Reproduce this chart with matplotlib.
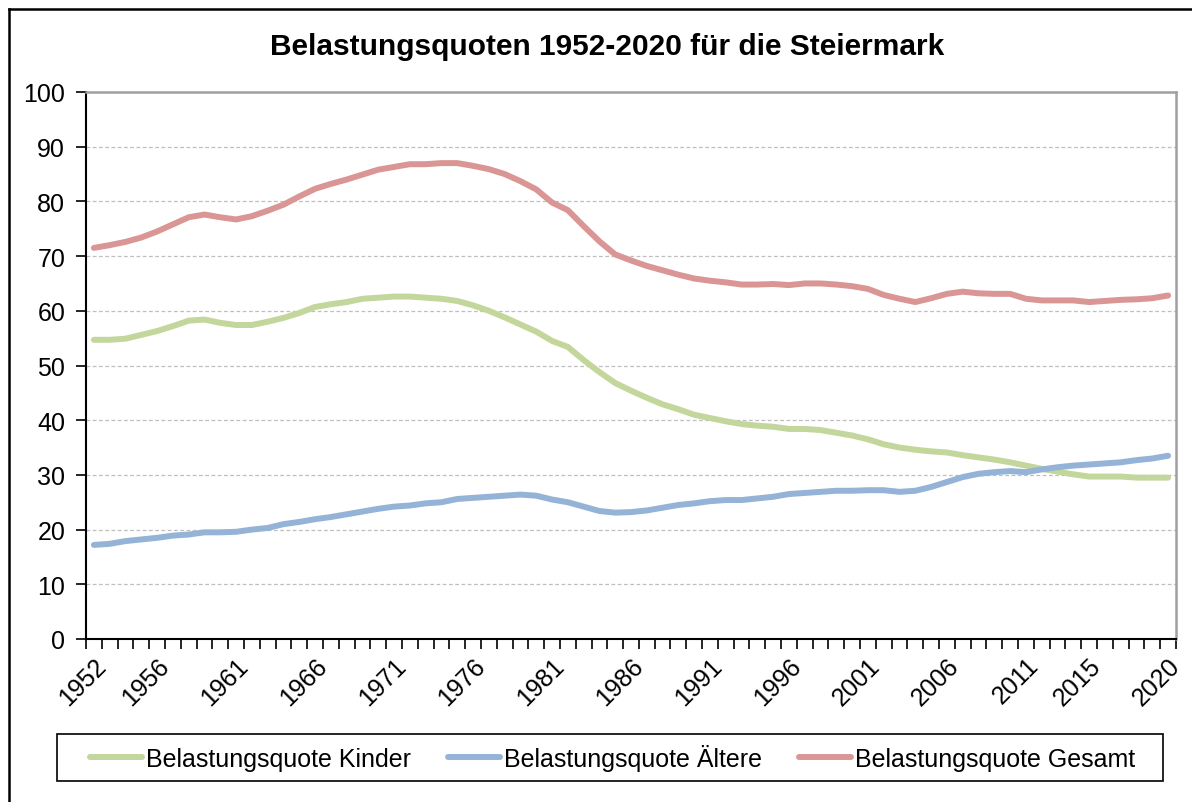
import numpy as np
import matplotlib.pyplot as plt
from matplotlib.lines import Line2D
from matplotlib.patches import Rectangle

# =====================================================================
# DATEN
# =====================================================================
jahre = list(range(1952, 2021))

kinder = [
    54.7, 54.7, 54.9, 55.6, 56.3, 57.2, 58.2, 58.4, 57.8, 57.4,   # 1952-1961
    57.4, 58.0, 58.7, 59.6, 60.7, 61.2, 61.6, 62.2, 62.4, 62.6,   # 1962-1971
    62.6, 62.4, 62.2, 61.8, 61.0, 60.0, 58.8, 57.5, 56.2, 54.5,   # 1972-1981
    53.4, 51.0, 48.8, 46.8, 45.4, 44.1, 42.9, 42.0, 41.0, 40.4,   # 1982-1991
    39.8, 39.3, 39.0, 38.8, 38.4, 38.4, 38.2, 37.7, 37.2, 36.5,   # 1992-2001
    35.6, 35.0, 34.6, 34.3, 34.1, 33.6, 33.2, 32.8, 32.3, 31.7,   # 2002-2011
    31.1, 30.6, 30.1, 29.7, 29.7, 29.7, 29.5, 29.5, 29.5,         # 2012-2020
]

aeltere = [
    17.2, 17.4, 17.9, 18.2, 18.5, 18.9, 19.1, 19.5, 19.5, 19.6,
    20.0, 20.3, 21.0, 21.4, 21.9, 22.3, 22.8, 23.3, 23.8, 24.2,
    24.4, 24.8, 25.0, 25.6, 25.8, 26.0, 26.2, 26.4, 26.2, 25.5,
    25.0, 24.2, 23.4, 23.1, 23.2, 23.5, 24.0, 24.5, 24.8, 25.2,
    25.4, 25.4, 25.7, 26.0, 26.5, 26.7, 26.9, 27.1, 27.1, 27.2,
    27.2, 26.9, 27.1, 27.8, 28.7, 29.6, 30.2, 30.5, 30.7, 30.5,
    31.0, 31.4, 31.7, 31.9, 32.1, 32.3, 32.7, 33.0, 33.5,
]

gesamt = [
    71.5, 72.0, 72.6, 73.4, 74.5, 75.8, 77.1, 77.6, 77.1, 76.7,
    77.3, 78.3, 79.4, 80.9, 82.3, 83.2, 84.0, 84.9, 85.8, 86.3,
    86.8, 86.8, 87.0, 87.0, 86.5, 85.9, 85.0, 83.7, 82.2, 79.8,
    78.4, 75.5, 72.7, 70.3, 69.2, 68.2, 67.4, 66.6, 65.9, 65.5,
    65.2, 64.8, 64.8, 64.9, 64.7, 65.0, 65.0, 64.8, 64.5, 64.0,
    62.9, 62.2, 61.6, 62.3, 63.1, 63.5, 63.2, 63.1, 63.1, 62.2,
    61.9, 61.9, 61.9, 61.6, 61.8, 62.0, 62.1, 62.3, 62.8,
]

beschriftete_jahre = [1952, 1956, 1961, 1966, 1971, 1976, 1981, 1986,
                      1991, 1996, 2001, 2006, 2011, 2015, 2020]

namen = ["Belastungsquote Kinder", "Belastungsquote Ältere", "Belastungsquote Gesamt"]
farben = ["#C3D69B", "#95B3D7", "#D99694"]

# =====================================================================
# GRAFIK
# =====================================================================
plt.rcParams["font.family"] = ["Liberation Sans", "DejaVu Sans"]

W, H = 1192, 803
fig = plt.figure(figsize=(W / 100, H / 100), dpi=100)
ax = fig.add_axes([86 / W, 1 - 640 / H, (1176 - 86) / W, (640 - 93) / H])

x = np.arange(len(jahre))
for werte, name, farbe in zip([kinder, aeltere, gesamt], namen, farben):
    ax.plot(x, werte, color=farbe, lw=4.3, solid_capstyle="round",
            solid_joinstyle="round", label=name, zorder=3)

# Achsen
ax.set_xlim(-0.5, len(jahre) - 0.5)
ax.set_ylim(0, 100)
ax.set_yticks(range(0, 101, 10))
ax.tick_params(axis="y", labelsize=18, length=7, width=1.2, pad=8, direction="out")

pos = [jahre.index(j) for j in beschriftete_jahre]
ax.set_xticks(pos)
ax.set_xticklabels([str(j) for j in beschriftete_jahre], rotation=45,
                   ha="right", va="top", rotation_mode="anchor", fontsize=18)
ax.tick_params(axis="x", length=0, pad=10)
ax.set_xticks(np.arange(-0.5, len(jahre)), minor=True)
ax.tick_params(axis="x", which="minor", length=7, width=1.2, direction="out")

ax.grid(axis="y", color="#BFBFBF", linestyle=(0, (3, 2)), lw=0.9)
ax.set_axisbelow(True)

ax.spines["left"].set_color("#000000")
ax.spines["bottom"].set_color("#000000")
ax.spines["left"].set_linewidth(1.5)
ax.spines["bottom"].set_linewidth(1.5)
ax.spines["top"].set_color("#A0A0A0")
ax.spines["right"].set_color("#A0A0A0")
ax.spines["top"].set_linewidth(1.8)
ax.spines["right"].set_linewidth(1.8)

# Titel
fig.text(607 / W, 1 - 47 / H, "Belastungsquoten 1952-2020 für die Steiermark",
         ha="center", va="center", fontsize=21.5, fontweight="bold")

# Legende (Rahmen separat gezeichnet)
fig.add_artist(Rectangle((57 / W, 1 - 782 / H), (1163 - 57) / W, (782 - 735) / H,
                         transform=fig.transFigure, fill=False,
                         edgecolor="black", lw=1.2))
leg = fig.legend(loc="center", bbox_to_anchor=(613 / W, 1 - 758.5 / H),
                 ncol=3, fontsize=18, frameon=False,
                 handlelength=2.08, handletextpad=0.16,
                 columnspacing=1.48, borderpad=0.0)

# Rahmen um das ganze Diagramm
fig.add_artist(Line2D([9 / W, 1.0], [1 - 10 / H, 1 - 10 / H],
                      color="black", lw=1.8, transform=fig.transFigure))
fig.add_artist(Line2D([9 / W, 9 / W], [1 - 10 / H, 0.0],
                      color="black", lw=1.8, transform=fig.transFigure))

fig.savefig("out.png", dpi=100)
